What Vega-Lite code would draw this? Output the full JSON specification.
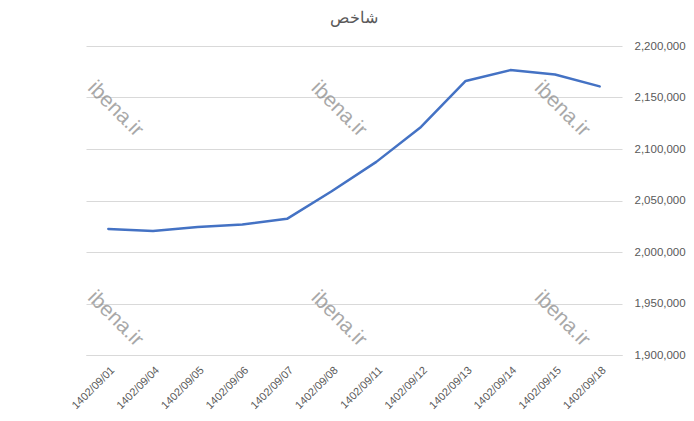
{
  "$schema": "https://vega.github.io/schema/vega-lite/v6.json",
  "autosize": "none",
  "width": 536,
  "height": 309,
  "padding": {"left": 86, "top": 46, "right": 72, "bottom": 66},
  "background": "white",
  "title": {
    "text": "شاخص",
    "font": "Liberation Sans",
    "fontSize": 16,
    "fontWeight": "normal",
    "color": "#595959",
    "anchor": "middle",
    "offset": 14
  },
  "config": {
    "view": {"stroke": null},
    "font": "Liberation Sans"
  },
  "datasets": {
    "series": [
      {"date": "1402/09/01", "value": 2022400},
      {"date": "1402/09/04", "value": 2020400},
      {"date": "1402/09/05", "value": 2024300},
      {"date": "1402/09/06", "value": 2026600},
      {"date": "1402/09/07", "value": 2032200},
      {"date": "1402/09/08", "value": 2059000},
      {"date": "1402/09/11", "value": 2087500},
      {"date": "1402/09/12", "value": 2121400},
      {"date": "1402/09/13", "value": 2166100},
      {"date": "1402/09/14", "value": 2176600},
      {"date": "1402/09/15", "value": 2172300},
      {"date": "1402/09/18", "value": 2160800}
    ],
    "marks": [
      {"date": "1402/09/01", "value": 2145500, "label": "ibena.ir"},
      {"date": "1402/09/08", "value": 2145500, "label": "ibena.ir"},
      {"date": "1402/09/15", "value": 2145500, "label": "ibena.ir"},
      {"date": "1402/09/01", "value": 1942000, "label": "ibena.ir"},
      {"date": "1402/09/08", "value": 1942000, "label": "ibena.ir"},
      {"date": "1402/09/15", "value": 1942000, "label": "ibena.ir"}
    ]
  },
  "layer": [
    {
      "data": {"name": "series"},
      "mark": {"type": "line", "color": "#4472C4", "strokeWidth": 2.5, "strokeCap": "round", "strokeJoin": "round"},
      "encoding": {
        "x": {
          "field": "date",
          "type": "ordinal",
          "sort": null,
          "scale": {"paddingInner": 0, "paddingOuter": 0.5},
          "axis": {
            "title": null,
            "labelAngle": -45,
            "labelFontSize": 11,
            "labelColor": "#595959",
            "labelPadding": 9,
            "ticks": false,
            "domain": true,
            "domainColor": "#d9d9d9",
            "grid": false
          }
        },
        "y": {
          "field": "value",
          "type": "quantitative",
          "scale": {"domain": [1900000, 2200000], "nice": false, "zero": false},
          "axis": {
            "orient": "right",
            "title": null,
            "values": [1900000, 1950000, 2000000, 2050000, 2100000, 2150000, 2200000],
            "format": ",.0f",
            "labelFontSize": 11.5,
            "labelColor": "#595959",
            "labelPadding": 12,
            "ticks": false,
            "domain": false,
            "grid": true,
            "gridColor": "#d9d9d9",
            "gridWidth": 1
          }
        }
      }
    },
    {
      "data": {"name": "marks"},
      "mark": {"type": "text", "angle": 45, "fontSize": 21, "color": "#8c8c8c", "opacity": 0.75, "align": "center", "baseline": "middle", "dx": 10},
      "encoding": {
        "x": {"field": "date", "type": "ordinal", "sort": null},
        "y": {"field": "value", "type": "quantitative"},
        "text": {"field": "label"}
      }
    }
  ]
}
